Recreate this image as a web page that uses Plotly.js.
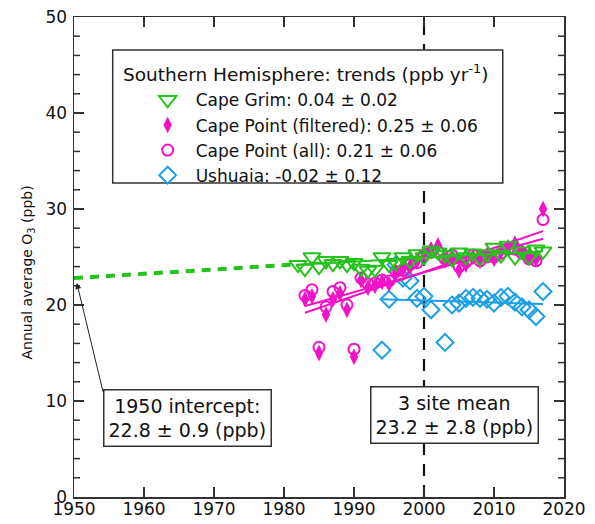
<!DOCTYPE html>
<html><head><meta charset="utf-8">
<script src="https://cdn.plot.ly/plotly-3.0.1.min.js"></script>
<style>html,body{margin:0;padding:0;background:#fff}#chart{width:595px;height:524px}</style>
</head><body><div id="chart"></div>
<script>
// ---- data ----
const capeGrimYears = [1982,1983,1984,1985,1986,1987,1988,1989,1990,1991,1992,1993,1994,1995,1996,1997,1998,1999,2000,2001,2002,2003,2004,2005,2006,2007,2008,2009,2010,2011,2012,2013,2014,2015,2016,2017];
const capeGrimO3 = [24.2,23.8,25.0,24.0,24.6,24.3,24.6,24.2,24.4,23.8,23.6,23.7,25.0,24.2,24.4,25.0,24.6,25.3,25.0,25.7,25.5,25.2,24.8,25.5,25.0,25.4,24.9,25.3,26.0,25.2,26.2,25.0,25.6,25.0,25.8,25.6];

const capePointYears = [1983,1984,1985,1986,1987,1988,1989,1990,1991,1992,1993,1994,1995,1996,1997,1998,1999,2000,2001,2002,2003,2004,2005,2006,2007,2008,2009,2010,2011,2012,2013,2014,2015,2016,2017];
const capePointFiltered = [20.6,20.9,15.0,19.0,20.6,21.2,19.5,14.6,22.6,21.8,22.0,22.4,22.2,23.4,23.8,24.0,24.6,25.4,25.8,26.2,24.6,25.0,23.6,24.2,25.0,24.6,25.2,24.8,25.6,26.0,26.4,25.6,25.0,24.8,30.0];
const capePointAll = [21.0,21.6,15.6,19.8,21.4,21.8,20.0,15.4,22.8,22.2,22.3,22.6,22.5,23.5,23.6,24.2,24.4,25.2,25.5,25.6,24.8,25.2,24.0,24.5,25.2,24.6,25.0,25.0,25.4,25.8,25.8,25.4,24.8,24.6,28.9];

const ushuaiaYears = [1994,1995,1996,1997,1998,1999,2000,2001,2003,2004,2005,2006,2007,2008,2009,2010,2011,2012,2013,2014,2015,2016,2017];
const ushuaiaO3 = [15.3,20.6,24.2,22.8,22.5,20.7,20.9,19.5,16.1,20.0,20.2,20.7,20.8,20.7,20.6,20.2,20.8,20.9,20.3,19.8,19.5,18.8,21.4];

// trend lines (end points)
const capeGrimTrendX = [1982, 2017], capeGrimTrendY = [24.2, 25.6];
const capeGrimBackX = [1950, 1981], capeGrimBackY = [22.8, 24.2];
const cpFilteredTrendX = [1983, 2017], cpFilteredTrendY = [19.2, 27.7];
const cpAllTrendX = [1983, 2017], cpAllTrendY = [19.9, 26.9];
const ushuaiaTrendX = [1994, 2017], ushuaiaTrendY = [20.6, 20.1];

const legendNames = [
  'Cape Grim: 0.04 \u00b1 0.02',
  'Cape Point (filtered): 0.25 \u00b1 0.06',
  'Cape Point (all): 0.21 \u00b1 0.06',
  'Ushuaia: -0.02 \u00b1 0.12'
];
const xRange = [1950, 2020], xStep = 10;
const yRange = [0, 50], yStep = 10;
const xMajorTicks = [1960,1970,1980,1990,2000,2010];
const yMajorTicks = [10,20,30,40];
const yMinorTicks = [2,4,6,8,12,14,16,18,22,24,26,28,32,34,36,38,42,44,46,48];
const interceptYear = 1950, interceptValue = 22.8;
const meanYear = 2000;

// ---- style ----
const GREEN = '#25c21b', MAG = '#f312c9', BLUE = '#1b9fe6';
const FONT = 'DejaVu Sans, Verdana, sans-serif';
const AXC = '#333';
const PLOT_W = 595 - 74 - 31, PLOT_H = 524 - 17 - 27;
const pxX = (xRange[1] - xRange[0]) / PLOT_W;   // years per pixel
const pxY = (yRange[1] - yRange[0]) / PLOT_H;   // ppb per pixel
const MAJOR_LEN = 10, MINOR_LEN = 6;

const traces = [
  {x: capeGrimBackX, y: capeGrimBackY, mode:'lines', line:{color:GREEN, width:4, dash:'9px,7px'}, showlegend:false, hoverinfo:'skip'},
  {x: ushuaiaYears, y: ushuaiaO3, mode:'markers', name: legendNames[3], legendrank: 4,
   marker:{symbol:'diamond-open', size:13, color:BLUE, line:{width:2, color:BLUE}}},
  {x: ushuaiaTrendX, y: ushuaiaTrendY, mode:'lines', line:{color:BLUE, width:2}, showlegend:false},
  {x: capePointYears, y: capePointFiltered, mode:'markers', name: legendNames[1], legendrank: 2,
   marker:{symbol:'diamond-tall', size:12, color:MAG}},
  {x: capePointYears, y: capePointAll, mode:'markers', name: legendNames[2], legendrank: 3,
   marker:{symbol:'circle-open', size:11, color:MAG, line:{width:2, color:MAG}}},
  {x: cpFilteredTrendX, y: cpFilteredTrendY, mode:'lines', line:{color:MAG, width:2}, showlegend:false},
  {x: cpAllTrendX, y: cpAllTrendY, mode:'lines', line:{color:MAG, width:2}, showlegend:false},
  {x: capeGrimTrendX, y: capeGrimTrendY, mode:'lines', line:{color:GREEN, width:2}, showlegend:false},
  {x: capeGrimYears, y: capeGrimO3, mode:'markers', name: legendNames[0], legendrank: 1,
   marker:{symbol:'triangle-down-open', size:15, color:GREEN, line:{width:2, color:GREEN}}}
];

const axisCommon = {
  showgrid:false, zeroline:false, showline:true, linecolor:AXC, linewidth:1.5,
  mirror:'allticks', ticks:'inside', tickcolor:AXC, tickwidth:1.5, ticklen:MAJOR_LEN,
  tickfont:{family:FONT, size:17, color:'#111'}
};

// frame ticks (axis decoration) drawn inward on all four sides
const tickShapes = [];
const tk = (x0, x1, y0, y1) => tickShapes.push({type:'line', xref:'x', yref:'y', x0, x1, y0, y1,
  layer:'above', line:{color:AXC, width:1.5}});
xMajorTicks.forEach(v => {
  tk(v, v, yRange[0], yRange[0] + MAJOR_LEN * pxY);
  tk(v, v, yRange[1], yRange[1] - MAJOR_LEN * pxY);
});
yMajorTicks.forEach(v => {
  tk(xRange[0], xRange[0] + MAJOR_LEN * pxX, v, v);
  tk(xRange[1], xRange[1] - MAJOR_LEN * pxX, v, v);
});
yMinorTicks.forEach(v => {
  tk(xRange[0], xRange[0] + MINOR_LEN * pxX, v, v);
  tk(xRange[1], xRange[1] - MINOR_LEN * pxX, v, v);
});

const layout = {
  width:595, height:524,
  margin:{l:74, r:31, t:17, b:27, pad:0},
  paper_bgcolor:'#fff', plot_bgcolor:'#fff',
  font:{family:FONT, color:'#111'},
  xaxis: Object.assign({}, axisCommon, {range:xRange, tickmode:'linear', tick0:xRange[0], dtick:xStep, ticklabelstandoff:-4}),
  yaxis: Object.assign({}, axisCommon, {range:yRange, tickmode:'linear', tick0:yRange[0], dtick:yStep, ticklabelstandoff:2}),
  showlegend:true,
  legend:{x:0.134, y:0.864, xanchor:'left', yanchor:'top', bgcolor:'rgba(0,0,0,0)', borderwidth:0,
    itemwidth:46, font:{family:FONT, size:17, color:'#111'}, traceorder:'normal'},
  shapes:[
    {type:'line', xref:'x', yref:'y', x0:meanYear, x1:meanYear, y0:yRange[0], y1:yRange[1], layer:'below',
     line:{color:'#111', width:2.2, dash:'12px,9px'}},
    {type:'rect', xref:'paper', yref:'paper', x0:0.079, x1:0.875, y0:0.654, y1:0.931, layer:'above',
     fillcolor:'#fff', line:{color:AXC, width:1.5}}
  ].concat(tickShapes),
  annotations:[
    {xref:'paper', yref:'paper', x:0.095, y:0.883, xanchor:'left', yanchor:'middle', showarrow:false,
     text:'Southern Hemisphere: trends (ppb yr<sup>-1</sup>)', font:{family:FONT, size:18.5, color:'#111'}},
    {xref:'paper', yref:'paper', x:-0.0945, y:0.467, xanchor:'center', yanchor:'middle', showarrow:false, textangle:-90,
     text:'Annual average O<sub>3</sub> (ppb)', font:{family:FONT, size:14, color:'#111'}},
    {xref:'x', yref:'y', x:1966.2, y:8.2, showarrow:false, align:'center',
     text:'1950 intercept:<br>22.8 \u00b1 0.9 (ppb)', font:{family:FONT, size:19, color:'#111'},
     bgcolor:'#fff', bordercolor:AXC, borderwidth:1.5, borderpad:4},
    {xref:'x', yref:'y', x:2004.3, y:8.5, showarrow:false, align:'center',
     text:'3 site mean<br>23.2 \u00b1 2.8 (ppb)', font:{family:FONT, size:19, color:'#111'},
     bgcolor:'#fff', bordercolor:AXC, borderwidth:1.5, borderpad:4},
    {xref:'x', yref:'y', x:interceptYear + 0.4, y:interceptValue - 0.5, text:'', showarrow:true,
     axref:'x', ayref:'y', ax:1954.2, ay:10.8, arrowhead:2, arrowsize:1.2, arrowwidth:1, arrowcolor:'#222', standoff:0}
  ]
};

Plotly.newPlot('chart', traces, layout, {displayModeBar:false, staticPlot:true});
</script></body></html>
